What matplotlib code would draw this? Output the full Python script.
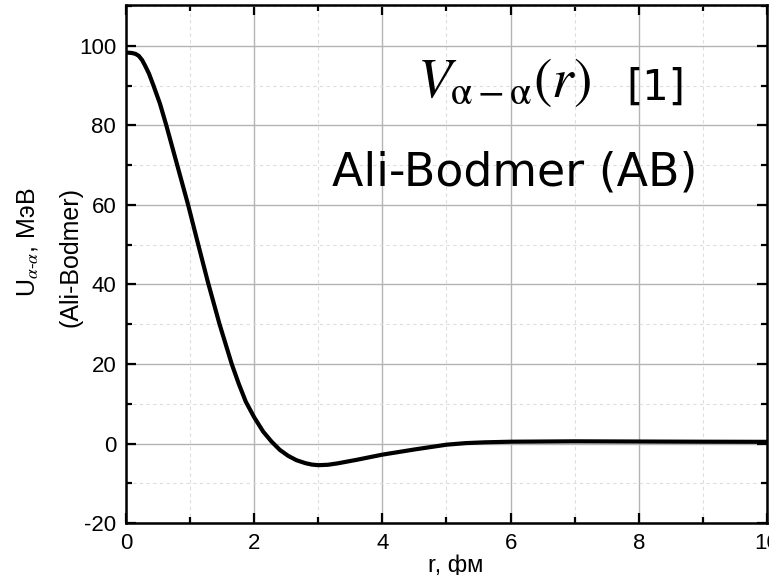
import matplotlib
matplotlib.use("Agg")
import matplotlib.pyplot as plt
from matplotlib.ticker import MultipleLocator

# Ali-Bodmer alpha-alpha potential
r_fm = [0.0, 0.05, 0.1, 0.15, 0.2, 0.25, 0.3, 0.36, 0.43, 0.53, 0.63, 0.8,
        0.97, 1.12, 1.28, 1.46, 1.65, 1.76, 1.87, 2.0, 2.14, 2.27, 2.4,
        2.53, 2.66, 2.8, 2.9, 3.0, 3.15, 3.3, 3.6, 4.0, 4.5, 5.0, 5.3,
        5.6, 6.0, 7.0, 8.0, 9.0, 10.0]
u_mev = [98.3, 98.3, 98.2, 98.0, 97.5, 96.5, 95.0, 93.0, 90.0, 85.5, 80.0,
         70.0, 60.0, 50.5, 40.5, 30.0, 20.0, 15.0, 10.5, 6.6, 3.0, 0.5,
         -1.6, -3.1, -4.2, -4.95, -5.3, -5.45, -5.35, -5.0, -4.1, -2.8,
         -1.5, -0.3, 0.1, 0.3, 0.45, 0.55, 0.5, 0.45, 0.42]

plt.rcParams["font.family"] = ["Liberation Sans", "DejaVu Sans"]
plt.rcParams["mathtext.fontset"] = "stix"
plt.rcParams["axes.unicode_minus"] = False

fig = plt.figure(figsize=(7.69, 5.75), dpi=100)
ax = fig.add_axes([0.1638, 0.0904, 0.8336, 0.9009])

ax.plot(r_fm, u_mev, color="black", lw=3, solid_joinstyle="round", zorder=3)

ax.set_xlim(0, 10)
ax.set_ylim(-20, 110.3)
ax.xaxis.set_major_locator(MultipleLocator(2))
ax.xaxis.set_minor_locator(MultipleLocator(1))
ax.yaxis.set_major_locator(MultipleLocator(20))
ax.yaxis.set_minor_locator(MultipleLocator(10))
ax.grid(which="major", color="#b4b4b4", lw=1.0, ls="-")
ax.grid(which="minor", color="#dddddd", lw=0.8, ls=(0, (3, 3)))
ax.set_axisbelow(True)

ax.tick_params(which="both", direction="in", top=True, right=True,
               labelsize=16, width=1.6, pad=7)
ax.tick_params(which="major", length=7.5)
ax.tick_params(which="minor", length=4)
for s in ax.spines.values():
    s.set_linewidth(1.8)

fig.text(0.593, 0.006, "r, фм", ha="center", va="baseline", fontsize=17)
fig.text(0.0364, 0.579, "U$_{\\alpha\\text{-}\\alpha}$, МэВ", rotation=90,
         ha="center", va="center", fontsize=18)
fig.text(0.0923, 0.553, "(Ali-Bodmer)", rotation=90,
         ha="center", va="center", fontsize=18)

ax.text(4.54, 87.2, r"$V_{\mathrm{\alpha-\alpha}}\left(r\right)$",
        fontsize=40, ha="left", va="baseline")
ax.text(7.81, 86.4, "[1]", fontsize=30, ha="left", va="baseline",
        family="DejaVu Sans")
ax.text(6.07, 65.0, "Ali-Bodmer (AB)", fontsize=33, ha="center",
        va="baseline", family="DejaVu Sans")

fig.savefig("out.png", dpi=100)
